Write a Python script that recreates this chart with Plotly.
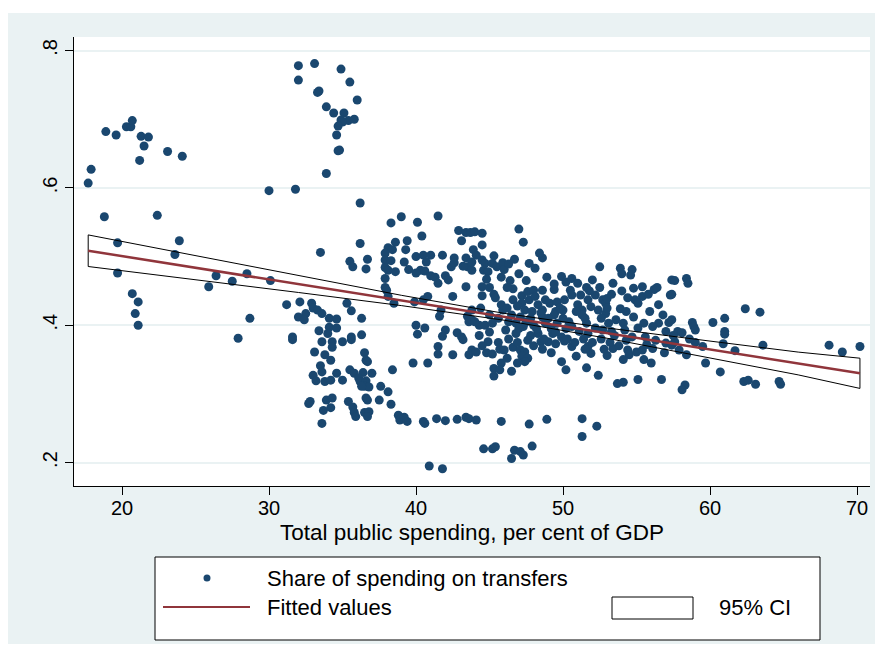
import plotly.graph_objects as go

# ---- data (x: total public spending % of GDP, y: share on transfers)
# left group
spend_a = [18.9, 19.6, 20.3, 20.6, 20.7, 21.3, 21.8, 21.5, 21.2, 23.1,
           24.1, 17.9, 17.7, 30.0, 18.8, 22.4, 19.7, 23.9, 23.6, 19.7,
           20.7, 21.1, 20.9, 21.1, 25.9, 26.4, 27.5, 28.5, 30.1, 28.7,
           27.9]
share_a = [0.682, 0.677, 0.689, 0.689, 0.698, 0.675, 0.674, 0.661, 0.640, 0.653,
           0.646, 0.627, 0.607, 0.596, 0.558, 0.560, 0.520, 0.523, 0.503, 0.476,
           0.446, 0.434, 0.417, 0.400, 0.456, 0.472, 0.464, 0.475, 0.465, 0.410,
           0.381]
# high group around 32-36
spend_b = [32.0, 33.1, 34.9, 32.0, 35.5, 33.4, 33.3, 36.0, 33.9, 34.4,
           35.1, 34.9, 35.4, 35.8, 35.0, 34.7, 34.6, 34.8, 34.7, 33.9,
           31.8]
share_b = [0.778, 0.781, 0.773, 0.757, 0.754, 0.741, 0.739, 0.728, 0.718, 0.709,
           0.709, 0.699, 0.698, 0.700, 0.696, 0.690, 0.677, 0.655, 0.654, 0.621,
           0.598]
# 36-44, upper middle
spend_c = [36.2, 38.3, 39.0, 40.1, 41.5, 40.4, 42.9, 43.4, 43.7, 43.1,
           36.2, 33.5, 38.6, 39.4, 39.3, 38.1, 38.4, 37.9, 35.5, 35.7,
           36.7, 36.6, 37.9, 38.3, 37.9, 38.1, 38.6, 39.2, 39.5, 40.0,
           40.5, 41.0, 40.7, 40.3, 40.6, 40.0, 41.0, 41.3, 41.5, 41.8,
           42.0, 42.2, 42.6, 42.4, 42.6, 43.4, 43.5, 43.8, 43.2, 37.9,
           37.9, 38.0, 38.1, 38.5, 39.9, 40.5, 40.8, 42.5, 43.4, 41.7,
           41.6, 43.5, 43.6]
share_c = [0.578, 0.549, 0.558, 0.550, 0.559, 0.530, 0.538, 0.535, 0.535, 0.523,
           0.519, 0.506, 0.521, 0.523, 0.510, 0.513, 0.510, 0.505, 0.493, 0.485,
           0.496, 0.482, 0.495, 0.494, 0.484, 0.480, 0.478, 0.492, 0.481, 0.500,
           0.502, 0.502, 0.492, 0.480, 0.479, 0.476, 0.472, 0.470, 0.461, 0.502,
           0.472, 0.466, 0.498, 0.485, 0.491, 0.498, 0.485, 0.480, 0.486, 0.468,
           0.455, 0.451, 0.442, 0.432, 0.434, 0.437, 0.442, 0.442, 0.456, 0.422,
           0.413, 0.413, 0.405]
# 31-43, around .38-.43
spend_d = [31.2, 32.1, 32.9, 33.0, 33.3, 33.6, 32.5, 32.0, 32.4, 34.1,
           34.6, 35.3, 35.6, 36.3, 33.4, 34.1, 34.6, 34.0, 31.6, 35.6,
           36.3, 40.0, 40.6, 40.1, 42.0, 41.8, 42.8, 43.1]
share_d = [0.430, 0.434, 0.432, 0.425, 0.422, 0.417, 0.417, 0.412, 0.408, 0.410,
           0.409, 0.432, 0.421, 0.410, 0.392, 0.397, 0.396, 0.388, 0.383, 0.383,
           0.386, 0.400, 0.396, 0.387, 0.393, 0.384, 0.389, 0.383]
# 31-44, lower group
spend_e = [31.6, 33.6, 34.3, 35.0, 35.6, 33.1, 33.8, 34.2, 34.3, 36.5,
           36.6, 36.7, 33.5, 33.6, 33.0, 33.2, 33.8, 34.2, 34.6, 35.0,
           35.5, 35.8, 36.4, 36.1, 36.2, 37.0, 36.6, 36.5, 36.8, 36.3,
           37.6, 38.1, 38.4, 32.7, 32.8, 33.9, 34.3, 34.2, 33.7, 33.6,
           35.4, 35.7, 35.8, 35.9, 36.6, 36.7, 36.5, 36.8, 36.7, 37.5,
           38.3, 38.8, 38.9, 39.2, 39.4, 39.8, 40.8, 41.5, 41.5, 42.5,
           43.6, 40.5, 40.6, 41.4, 42.0, 42.8, 43.4, 43.6, 40.9, 41.8,
           43.2]
share_e = [0.379, 0.376, 0.376, 0.376, 0.379, 0.361, 0.357, 0.349, 0.368, 0.360,
           0.349, 0.347, 0.341, 0.332, 0.327, 0.319, 0.318, 0.320, 0.330, 0.320,
           0.335, 0.330, 0.331, 0.323, 0.318, 0.330, 0.319, 0.311, 0.310, 0.311,
           0.311, 0.303, 0.335, 0.286, 0.289, 0.291, 0.294, 0.280, 0.276, 0.257,
           0.289, 0.281, 0.273, 0.267, 0.294, 0.291, 0.273, 0.274, 0.267, 0.291,
           0.285, 0.269, 0.262, 0.266, 0.260, 0.345, 0.345, 0.369, 0.358, 0.357,
           0.357, 0.260, 0.257, 0.264, 0.261, 0.263, 0.266, 0.264, 0.195, 0.191,
           0.379]
# 44-50.5
spend_f = [44.0, 44.5, 47.0, 47.3, 44.5, 43.9, 44.1, 43.8, 44.5, 44.7,
           45.3, 45.2, 45.5, 45.9, 46.0, 46.3, 46.7, 44.6, 44.9, 44.8,
           48.6, 48.1, 44.5, 44.5, 45.3, 45.4, 46.6, 47.2, 46.6, 47.6,
           48.0, 48.6, 49.4, 49.9, 50.2, 50.5, 47.2, 47.7, 48.1, 48.3,
           48.8, 49.1, 49.6, 50.1, 47.4, 47.9, 48.6, 49.5, 50.0, 47.1,
           47.8, 48.6, 49.4, 46.8, 47.3, 48.0, 48.8, 49.6, 50.4, 45.9,
           44.3, 44.7, 45.2, 46.1, 46.8, 48.3, 49.3, 49.9, 43.8, 44.0,
           43.8]
share_f = [0.536, 0.534, 0.540, 0.521, 0.517, 0.510, 0.502, 0.492, 0.495, 0.490,
           0.501, 0.490, 0.485, 0.491, 0.481, 0.489, 0.496, 0.480, 0.478, 0.467,
           0.498, 0.483, 0.456, 0.443, 0.445, 0.440, 0.453, 0.443, 0.437, 0.449,
           0.451, 0.451, 0.452, 0.471, 0.463, 0.451, 0.432, 0.437, 0.442, 0.430,
           0.437, 0.432, 0.434, 0.437, 0.422, 0.420, 0.422, 0.420, 0.422, 0.412,
           0.410, 0.412, 0.415, 0.403, 0.398, 0.400, 0.403, 0.403, 0.405, 0.422,
           0.400, 0.400, 0.403, 0.393, 0.388, 0.388, 0.388, 0.383, 0.408, 0.405,
           0.422]
# 50.5-57.5
spend_g = [52.5, 53.9, 54.0, 54.7, 54.6, 50.6, 51.0, 52.0, 51.6, 53.4,
           54.8, 55.4, 56.2, 56.4, 57.4, 50.6, 51.2, 51.7, 52.2, 52.7,
           52.9, 53.0, 54.9, 55.4, 55.1, 57.3, 51.0, 51.3, 51.9, 52.4,
           52.9, 53.9, 51.3, 53.1, 53.6, 54.1, 54.8, 55.5, 56.5, 57.2,
           51.6, 52.2, 52.7, 55.1, 56.1, 50.6, 51.1, 51.7, 53.3, 54.2,
           54.7, 55.6, 57.0]
share_g = [0.485, 0.483, 0.475, 0.481, 0.473, 0.468, 0.461, 0.466, 0.455, 0.461,
           0.454, 0.456, 0.452, 0.455, 0.466, 0.444, 0.444, 0.437, 0.444, 0.437,
           0.432, 0.439, 0.437, 0.442, 0.432, 0.444, 0.430, 0.422, 0.427, 0.422,
           0.417, 0.424, 0.415, 0.403, 0.408, 0.403, 0.412, 0.403, 0.403, 0.404,
           0.403, 0.396, 0.393, 0.396, 0.398, 0.398, 0.391, 0.388, 0.391, 0.393,
           0.383, 0.383, 0.391]
# 44-57.5, lower part
spend_h = [44.9, 43.8, 44.1, 44.8, 45.7, 46.0, 46.6, 47.1, 47.4, 47.2,
           47.6, 47.4, 48.5, 49.0, 49.5, 50.1, 50.6, 51.7, 51.9, 53.0,
           53.4, 54.4, 54.5, 54.1, 55.0, 55.4, 56.1, 57.0, 57.4, 45.3,
           45.8, 45.7, 45.3, 46.5, 49.9, 50.2, 51.6, 52.4, 53.7, 54.1,
           55.1, 56.7, 44.1, 45.8, 47.7, 48.9, 51.3, 52.3, 51.3, 44.6,
           45.2, 45.4, 46.7, 47.1, 47.3, 46.5, 47.9]
share_h = [0.376, 0.364, 0.361, 0.360, 0.365, 0.364, 0.368, 0.364, 0.361, 0.355,
           0.352, 0.347, 0.376, 0.376, 0.373, 0.377, 0.369, 0.369, 0.359, 0.356,
           0.366, 0.364, 0.357, 0.350, 0.361, 0.364, 0.366, 0.374, 0.371, 0.337,
           0.345, 0.335, 0.326, 0.333, 0.347, 0.335, 0.338, 0.327, 0.315, 0.317,
           0.321, 0.321, 0.262, 0.260, 0.256, 0.263, 0.264, 0.253, 0.238, 0.220,
           0.220, 0.223, 0.218, 0.216, 0.211, 0.206, 0.224]
# right group 57.5+
spend_i = [57.6, 58.4, 58.5, 57.4, 62.4, 63.4, 57.4, 58.8, 58.9, 59.0,
           60.2, 61.0, 61.0, 61.0, 57.8, 58.1, 57.6, 57.9, 58.4, 59.0,
           59.5, 59.7, 60.9, 61.7, 63.6, 60.7, 58.3, 58.1, 62.3, 62.6,
           63.1, 64.7, 64.8, 68.1, 69.0, 70.2]
share_i = [0.465, 0.468, 0.461, 0.445, 0.424, 0.419, 0.408, 0.404, 0.398, 0.393,
           0.404, 0.410, 0.391, 0.387, 0.391, 0.389, 0.376, 0.364, 0.357, 0.375,
           0.369, 0.345, 0.373, 0.363, 0.371, 0.332, 0.313, 0.306, 0.318, 0.320,
           0.314, 0.318, 0.314, 0.371, 0.361, 0.369]
# overlapping points inside the dense core (44-58)
spend_j = [45.8, 46.2, 46.5, 46.9, 47.5, 48.2, 48.5, 49.0, 49.2, 49.8,
           46.3, 47.0, 47.8, 48.7, 49.5, 50.2, 50.0, 45.6, 45.0, 44.4,
           50.3, 50.8, 51.4, 52.0, 52.6, 53.2, 53.8, 54.3, 55.7, 56.3,
           56.9, 57.5, 58.6, 53.5, 52.8, 51.5, 50.9, 55.5, 56.0, 49.2,
           48.6, 48.0, 44.3, 45.0, 45.6, 46.3, 46.9, 47.6, 44.5, 45.2,
           46.2, 46.9, 45.8, 46.4, 47.0, 47.5, 48.9, 49.4, 46.2, 47.7,
           48.4, 45.0, 51.8, 52.5, 53.3, 54.0, 54.4, 55.8, 56.5, 53.0,
           54.3, 55.9, 56.8, 51.5, 52.6, 50.9]
share_j = [0.430, 0.425, 0.415, 0.428, 0.405, 0.395, 0.418, 0.410, 0.395, 0.425,
           0.405, 0.395, 0.385, 0.380, 0.390, 0.395, 0.410, 0.410, 0.415, 0.425,
           0.380, 0.375, 0.380, 0.375, 0.380, 0.375, 0.370, 0.378, 0.372, 0.378,
           0.360, 0.385, 0.380, 0.385, 0.365, 0.365, 0.355, 0.350, 0.345, 0.360,
           0.365, 0.370, 0.385, 0.390, 0.375, 0.380, 0.375, 0.378, 0.370, 0.358,
           0.352, 0.345, 0.470, 0.465, 0.475, 0.465, 0.470, 0.460, 0.455, 0.490,
           0.505, 0.455, 0.450, 0.455, 0.445, 0.450, 0.440, 0.445, 0.430, 0.425,
           0.420, 0.420, 0.415, 0.410, 0.410, 0.420]

# fitted line and 95% CI
fit_x = [17.7, 70.2]
fit_y = [0.5085, 0.330]
ci_x = [17.7, 25, 32, 39, 46, 53, 60, 66, 70.2]
ci_hi = [0.5315, 0.5011, 0.4721, 0.4436, 0.4173, 0.3960, 0.3769, 0.3609, 0.352]
ci_lo = [0.4855, 0.4663, 0.4477, 0.4286, 0.4073, 0.3810, 0.3525, 0.3277, 0.308]

x_ticks = [20, 30, 40, 50, 60, 70]
y_ticks = [0.2, 0.4, 0.6, 0.8]
y_ticklabels = [".2", ".4", ".6", ".8"]
x_title = "Total public spending, per cent of GDP"

spend = (spend_a + spend_b + spend_c + spend_d + spend_e + spend_f + spend_g
         + spend_h + spend_i + spend_j)
share = (share_a + share_b + share_c + share_d + share_e + share_f + share_g
         + share_h + share_i + share_j)

NAVY = "#1A476F"
MAROON = "#90353B"
BG = "#EAF2F3"
FONT = "Liberation Sans, Arial, sans-serif"
FS = 22

poly_x = ci_x + ci_x[::-1] + [ci_x[0]]
poly_y = ci_hi + ci_lo[::-1] + [ci_hi[0]]

fig = go.Figure()
fig.add_trace(go.Scatter(x=poly_x, y=poly_y, mode="lines", fill="toself",
                         fillcolor="white", line=dict(width=0), hoverinfo="skip"))
fig.add_trace(go.Scatter(x=spend, y=share, mode="markers",
                         marker=dict(color=NAVY, size=9, line=dict(width=0))))
fig.add_trace(go.Scatter(x=poly_x, y=poly_y, mode="lines",
                         line=dict(color="black", width=1), hoverinfo="skip"))
fig.add_trace(go.Scatter(x=fit_x, y=fit_y, mode="lines",
                         line=dict(color=MAROON, width=2.5)))

# layout geometry (pixels inside the figure)
W, H = 867, 636
ML, MR, MT, MB = 66, 5, 29, 158
PW, PH = W - ML - MR, H - MT - MB


def px(xp):  # figure pixel -> paper x
    return (xp - ML) / PW


def py(yp):  # figure pixel -> paper y
    return (H - MB - yp) / PH


shapes = []
annotations = []
# white strip at the very top of the page
shapes.append(dict(type="rect", xref="paper", yref="paper",
                   x0=px(0), x1=px(W), y0=py(0), y1=py(5),
                   line=dict(width=0), fillcolor="white", layer="above"))
# legend frame
shapes.append(dict(type="rect", xref="paper", yref="paper",
                   x0=px(147), x1=px(812), y0=py(549), y1=py(632),
                   line=dict(color="black", width=1), fillcolor="white", layer="above"))
# marker key
shapes.append(dict(type="circle", xref="paper", yref="paper",
                   x0=px(195.5), x1=px(202.5), y0=py(566.5), y1=py(573.5),
                   line=dict(width=0), fillcolor=NAVY))
# line key
shapes.append(dict(type="line", xref="paper", yref="paper",
                   x0=px(155), x1=px(242), y0=py(599), y1=py(599),
                   line=dict(color=MAROON, width=2)))
# CI key
shapes.append(dict(type="rect", xref="paper", yref="paper",
                   x0=px(604), x1=px(685), y0=py(589), y1=py(611),
                   line=dict(color="black", width=1), fillcolor="white"))
for txt, xx, yy in [("Share of spending on transfers", 257, 570),
                    ("Fitted values", 257, 599),
                    ("95% CI", 709, 599)]:
    annotations.append(dict(text=txt, xref="paper", yref="paper", x=px(xx), y=py(yy),
                            xanchor="left", yanchor="middle", showarrow=False,
                            font=dict(family=FONT, size=FS, color="black")))
# x axis title
annotations.append(dict(text=x_title, xref="paper", yref="paper", x=0.5, y=py(524),
                        xanchor="center", yanchor="middle", showarrow=False,
                        font=dict(family=FONT, size=22.5, color="black")))

fig.update_layout(
    width=W, height=H,
    margin=dict(l=ML, r=MR, t=MT, b=MB, pad=0),
    paper_bgcolor=BG, plot_bgcolor="white",
    showlegend=False,
    font=dict(family=FONT, size=FS, color="black"),
    shapes=shapes, annotations=annotations,
    xaxis=dict(range=[16.735, 70.884], tickvals=x_ticks, ticks="outside", ticklen=8,
               tickcolor="black", showgrid=False, zeroline=False, showline=True,
               linecolor="black", linewidth=1, ticklabelstandoff=-4,
               tickfont=dict(size=20)),
    yaxis=dict(range=[0.1659, 0.8197], tickvals=y_ticks, ticktext=y_ticklabels,
               ticks="outside", ticklen=8, tickcolor="black", tickangle=-90,
               showgrid=True, gridcolor=BG, gridwidth=1.5, zeroline=False,
               showline=True, linecolor="black", linewidth=1,
               tickfont=dict(size=20)),
)

fig.write_html("out.html")
